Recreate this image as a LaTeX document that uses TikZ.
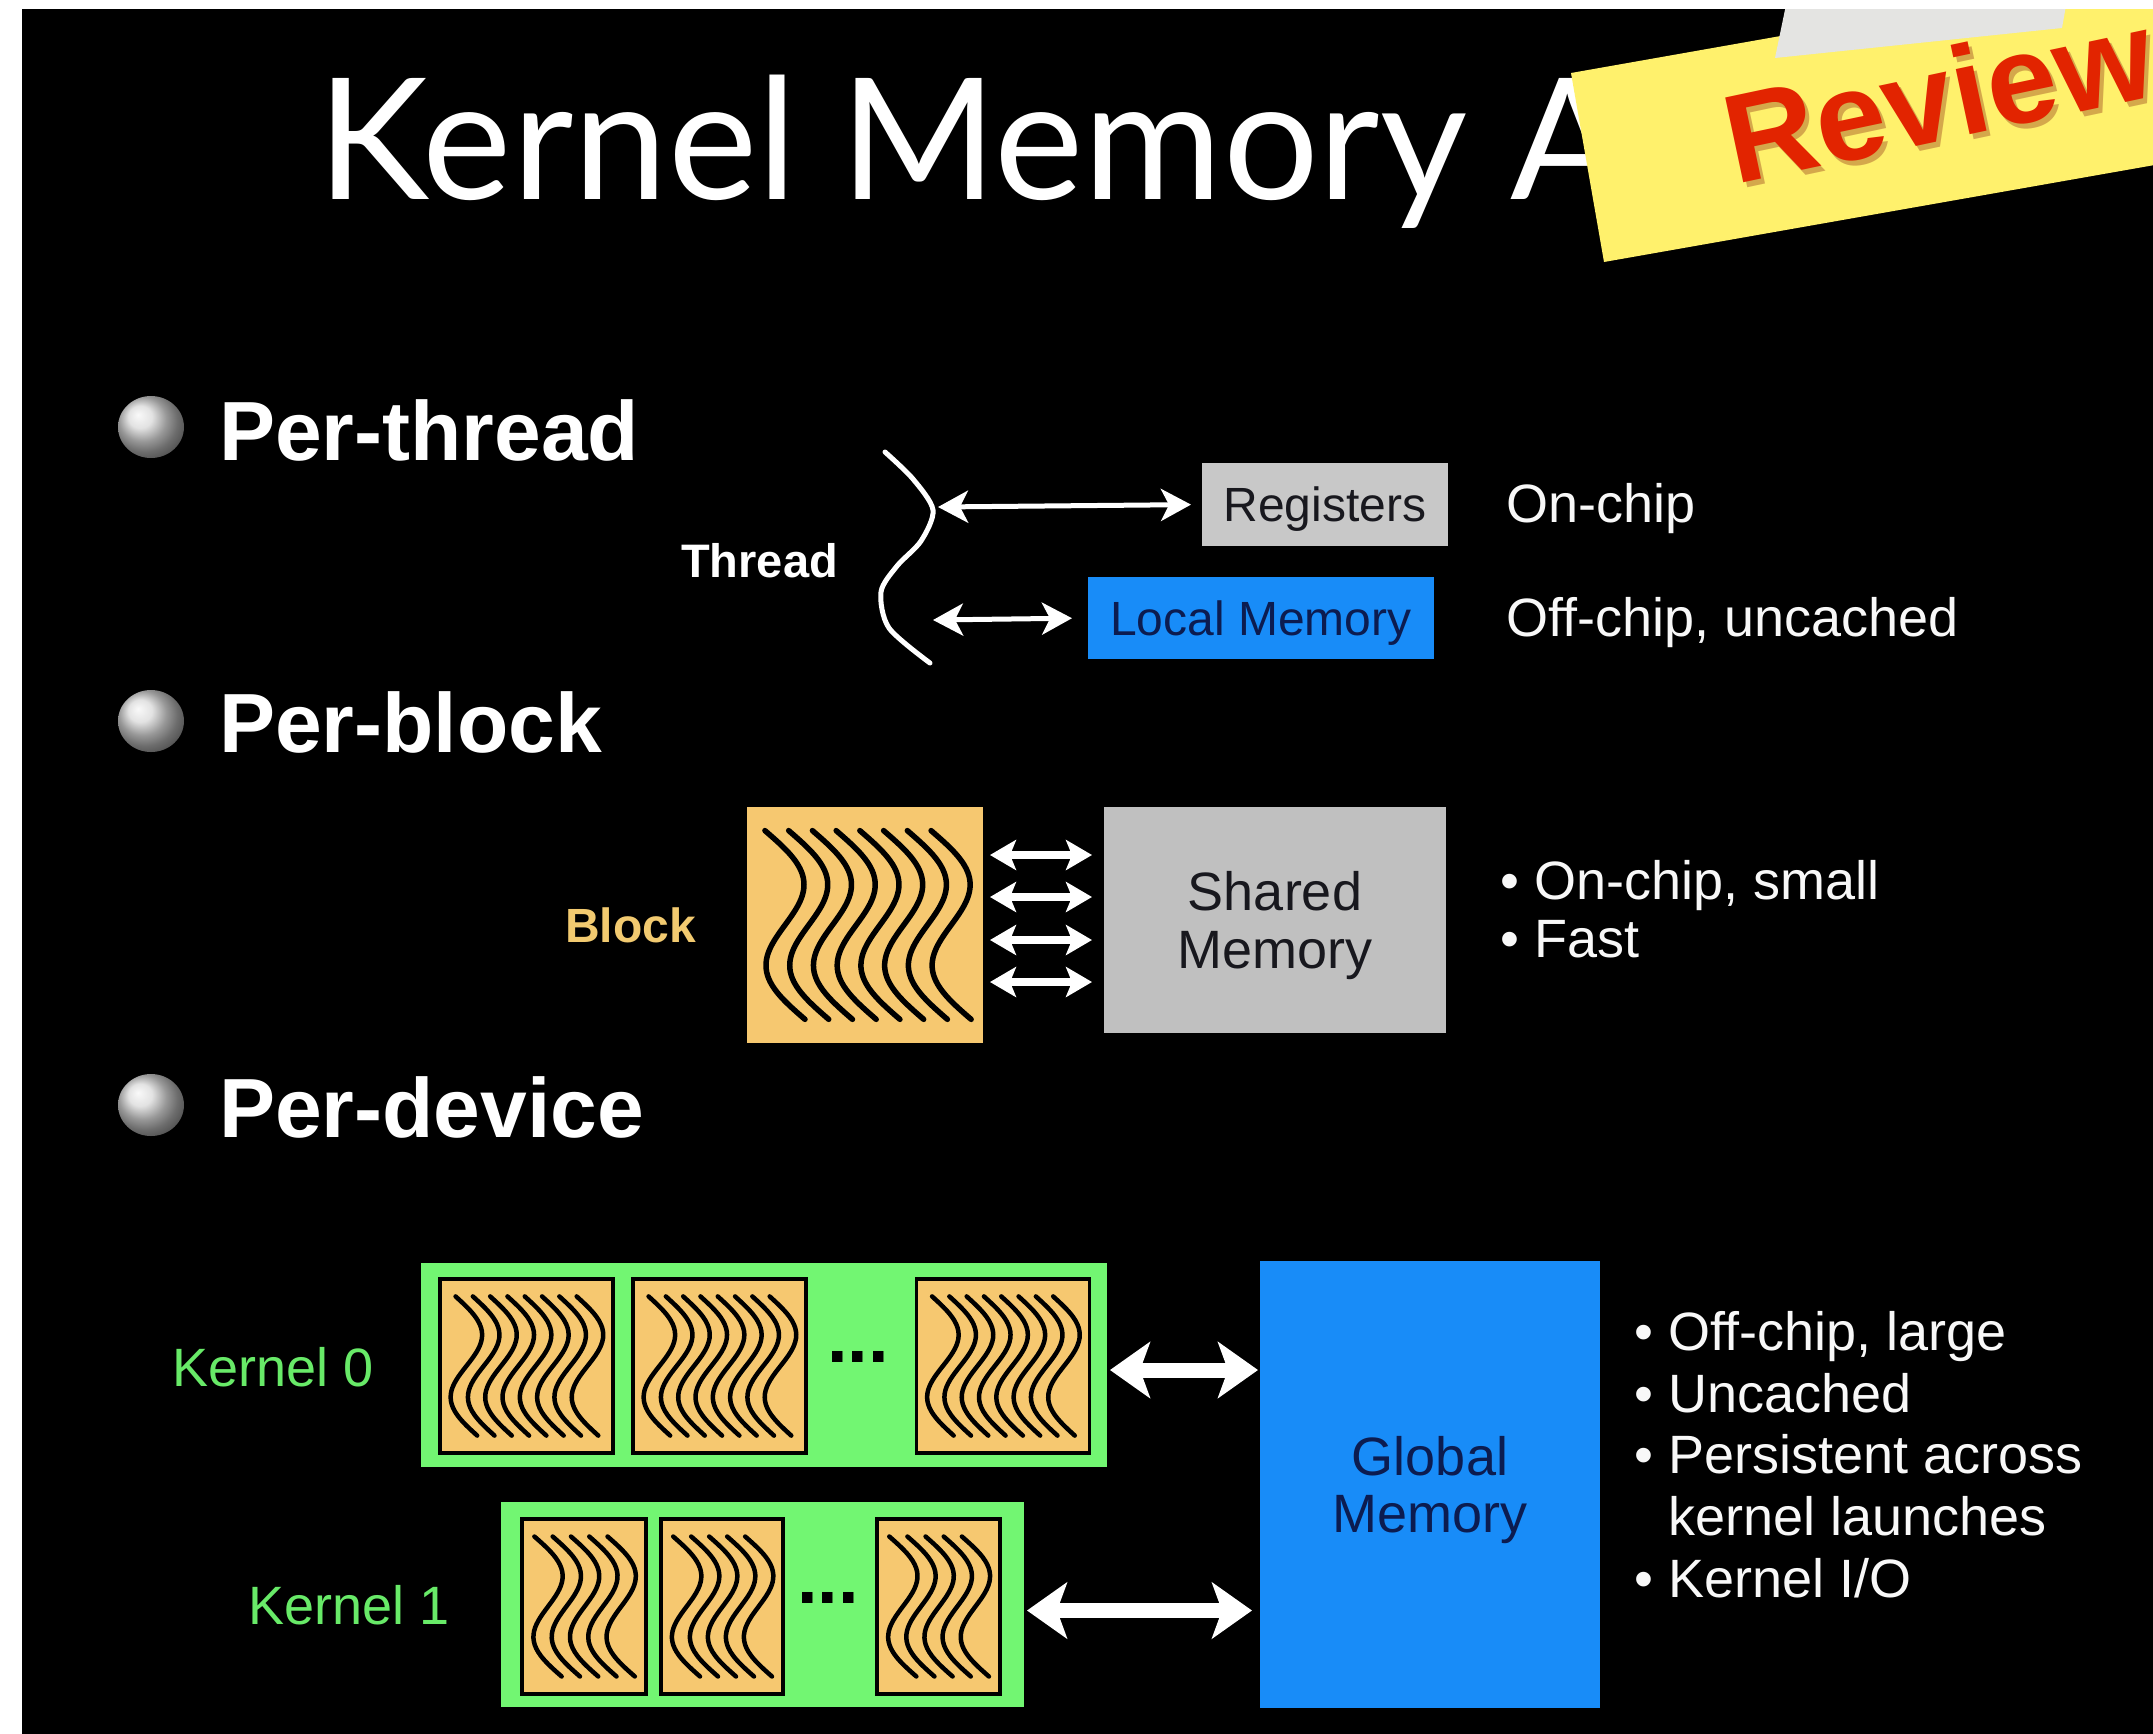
\documentclass[tikz,border=0pt]{standalone}
\usepackage{fontspec}
\setmainfont{Liberation Sans}
\newfontfamily\titlefont{Lato}
\usetikzlibrary{arrows.meta,shapes.geometric,calc}

\definecolor{regGrey}{RGB}{200,200,200}
\definecolor{shmGrey}{RGB}{192,192,192}
\definecolor{memBlue}{RGB}{24,140,248}
\definecolor{blkOrange}{RGB}{246,200,112}
\definecolor{blkLabel}{RGB}{242,202,112}
\definecolor{kerGreen}{RGB}{114,246,114}
\definecolor{kerLabel}{RGB}{104,234,104}
\definecolor{boxText}{RGB}{24,24,30}
\definecolor{navyText}{RGB}{12,28,80}
\definecolor{noteYellow}{RGB}{255,241,108}
\definecolor{tapeGrey}{RGB}{228,228,226}
\definecolor{reviewRed}{RGB}{226,36,0}
\definecolor{softWhite}{RGB}{248,248,248}

% wavy thread strokes inside a block node:
% [style] node, width, height, count, first top x, last top x, slant (fractions of width)
\newcommand\threadlines[8][thread]{%
  \begin{scope}[shift={(#2.north west)}]
    \pgfmathtruncatemacro\tlLast{#5-1}
    \foreach \tlI in {0,...,\tlLast}{%
      \pgfmathsetmacro\tlX{#3*(#6+(#7-#6)*\tlI/(#5-1))}
      \draw[#1] plot[domain=0:1,samples=41,smooth,variable=\t]
        ({\tlX+\t*#8*#3+0.12*#4*sin(360*\t)},{0.1*#4+0.8*#4*\t});
    }
  \end{scope}}

\begin{document}
\begin{tikzpicture}[x=1pt,y=-1pt,
  heading/.style={anchor=base west,inner sep=0pt,text=white,font=\fontsize{84}{96}\selectfont\bfseries},
  sidetext/.style={anchor=base west,inner sep=0pt,text=softWhite,font=\fontsize{54}{62}\selectfont},
  sphere/.style={ellipse,minimum width=66pt,minimum height=62pt,inner sep=0pt,ball color=gray!30!white},
  membox/.style={rectangle,inner sep=0pt,outer sep=0pt,text depth=0pt},
  kernelbox/.style={rectangle,fill=kerGreen,inner sep=0pt,outer sep=0pt},
  kblock/.style={rectangle,draw=black,line width=3.5pt,fill=blkOrange,inner sep=0pt,outer sep=0pt,minimum height=174pt},
  thread/.style={draw=black,line width=4.5pt,line cap=round},
  bigthread/.style={draw=black,line width=5.5pt,line cap=round},
  dotsnode/.style={inner sep=0pt,anchor=base,text=black,font=\fontsize{74}{80}\selectfont\bfseries},
  thinarr/.style={draw=white,line width=5pt,{Stealth[length=30pt,width=32pt,inset=8pt]}-{Stealth[length=30pt,width=32pt,inset=8pt]}},
  smallarr/.style={draw=white,line width=8pt,{Stealth[length=26pt,width=30pt,inset=6pt]}-{Stealth[length=26pt,width=30pt,inset=6pt]}},
  bigarr/.style={draw=white,line width=15pt,{Stealth[length=40pt,width=56pt,inset=10pt]}-{Stealth[length=40pt,width=56pt,inset=10pt]}},
]
\useasboundingbox (0,0) rectangle (2153,1733);
\clip (-10,-10) rectangle (2163,1743);

% slide background with its thin white margin
\fill[white] (-10,-10) rectangle (2163,1743);
\fill[black] (22,9) rectangle (2163,1743);

% title
\node[anchor=base west,inner sep=0pt,text=white,font=\titlefont\fontsize{169}{190}\selectfont] (title) at (317,199) {Kernel Memory A};

% sticky note with tape
\begin{scope}
  \clip (22,9) rectangle (2163,1743);
  \fill[noteYellow] (1571,73) -- (2200,-38) -- (2200,157) -- (1604,262) -- cycle;
  \fill[tapeGrey] (1775,58) -- (1787,0) -- (2067,0) -- (2062,28) -- cycle;
  \node[rotate=12,anchor=base west,inner sep=0pt,text=black!55!red,opacity=0.3,
        font=\fontsize{126}{140}\selectfont\bfseries] (reviewshadow) at (1739,190) {Review};
  \node[rotate=12,anchor=base west,inner sep=0pt,text=reviewRed,
        font=\fontsize{126}{140}\selectfont\bfseries] (review) at (1735,185) {Review};
\end{scope}

% section headings
\node[sphere] (s1) at (151,427) {};
\node[heading] (h1) at (219,460) {Per-thread};
\node[sphere] (s2) at (151,721) {};
\node[heading] (h2) at (219,752) {Per-block};
\node[sphere] (s3) at (151,1105) {};
\node[heading] (h3) at (219,1137) {Per-device};

% ---- per-thread ----
\node[anchor=base west,inner sep=0pt,text=white,font=\fontsize{47}{54}\selectfont\bfseries] (thr) at (681,577) {Thread};
\draw[white,line width=5pt,line cap=round] plot[smooth] coordinates
  {(885,452) (913,479) (933,510) (921,541) (897,566) (881,592) (889,628) (930,663)};
\coordinate (thrR) at (938,507);
\coordinate (thrL) at (933,620);

\node[membox,fill=regGrey,minimum width=246pt,minimum height=83pt,text height=34pt,
      text=boxText,font=\fontsize{48}{56}\selectfont] (reg) at (1325,504.5) {Registers};
\node[membox,fill=memBlue,minimum width=346pt,minimum height=82pt,text height=34pt,
      text=navyText,font=\fontsize{48}{56}\selectfont] (loc) at (1261,618) {Local Memory};
\draw[thinarr,shorten >=11pt] (thrR) -- (reg.west);
\draw[thinarr,shorten >=16pt] (thrL) -- (loc.west);

\node[sidetext] (onchip) at (1506,522) {On-chip};
\node[sidetext] (offchip) at (1506,636) {Off-chip, uncached};

% ---- per-block ----
\node[anchor=base west,inner sep=0pt,text=blkLabel,font=\fontsize{48}{54}\selectfont\bfseries] (blklbl) at (565,942) {Block};
\node[membox,fill=blkOrange,minimum width=236pt,minimum height=236pt] (blk) at (865,925) {};
\threadlines[bigthread]{blk}{236}{236}{8}{0.076}{0.78}{0.17}

\node[membox,fill=shmGrey,minimum width=342pt,minimum height=226pt,align=center,
      text=boxText,font=\fontsize{54}{58}\selectfont] (shm) at (1275,920) {Shared\\Memory};

\coordinate (ba1) at ($(blk.east)+(0,-70)$);
\coordinate (ba2) at ($(blk.east)+(0,-28)$);
\coordinate (ba3) at ($(blk.east)+(0,15)$);
\coordinate (ba4) at ($(blk.east)+(0,57)$);
\foreach \c in {ba1,ba2,ba3,ba4}
  \draw[smallarr,shorten <=7pt,shorten >=12pt] (\c) -- (\c -| shm.west);

\node[sidetext] (sb1) at (1500,899) {• On-chip, small};
\node[sidetext] (sb2) at (1500,957) {• Fast};

% ---- per-device ----
\node[anchor=base west,inner sep=0pt,text=kerLabel,font=\fontsize{54}{60}\selectfont] (k0lbl) at (172,1386) {Kernel 0};
\node[anchor=base west,inner sep=0pt,text=kerLabel,font=\fontsize{54}{60}\selectfont] (k1lbl) at (248,1624) {Kernel 1};

\node[kernelbox,minimum width=686pt,minimum height=204pt] (k0) at (764,1365) {};
\node[kblock,minimum width=173pt] (k0a) at (526.5,1366) {};
\node[kblock,minimum width=173pt] (k0b) at (719.5,1366) {};
\node[kblock,minimum width=173pt] (k0c) at (1003,1366) {};
\node[dotsnode] (k0dots) at (858,1362) {...};
\threadlines{k0a}{173}{174}{8}{0.09}{0.79}{0.125}
\threadlines{k0b}{173}{174}{8}{0.09}{0.79}{0.125}
\threadlines{k0c}{173}{174}{8}{0.09}{0.79}{0.125}

\node[kernelbox,minimum width=523pt,minimum height=205pt] (k1) at (762.5,1604.5) {};
\node[kblock,minimum width=124pt,minimum height=175pt] (k1a) at (584,1606.5) {};
\node[kblock,minimum width=122pt,minimum height=175pt] (k1b) at (722,1606.5) {};
\node[kblock,minimum width=123pt,minimum height=175pt] (k1c) at (938.5,1606.5) {};
\node[dotsnode] (k1dots) at (828,1603) {...};
\threadlines{k1a}{124}{175}{5}{0.10}{0.69}{0.22}
\threadlines{k1b}{122}{175}{5}{0.10}{0.69}{0.22}
\threadlines{k1c}{123}{175}{5}{0.10}{0.69}{0.22}

\node[membox,fill=memBlue,minimum width=340pt,minimum height=447pt,align=center,
      text=navyText,font=\fontsize{54}{57}\selectfont] (glob) at (1430,1484.5) {Global\\Memory};

\coordinate (k0out) at ($(k0.east)+(0,5)$);
\coordinate (k1out) at ($(k1.east)+(0,6)$);
\draw[bigarr,shorten <=3pt,shorten >=2pt] (k0out) -- (k0out -| glob.west);
\draw[bigarr,shorten <=3pt,shorten >=8pt] (k1out) -- (k1out -| glob.west);

\node[sidetext] (gb1) at (1634,1350) {• Off-chip, large};
\node[sidetext] (gb2) at (1634,1412) {• Uncached};
\node[sidetext] (gb3) at (1634,1473) {• Persistent across};
\node[sidetext] (gb4) at (1634,1535) {\phantom{• }kernel launches};
\node[sidetext] (gb5) at (1634,1597) {• Kernel I/O};

\end{tikzpicture}
\end{document}
